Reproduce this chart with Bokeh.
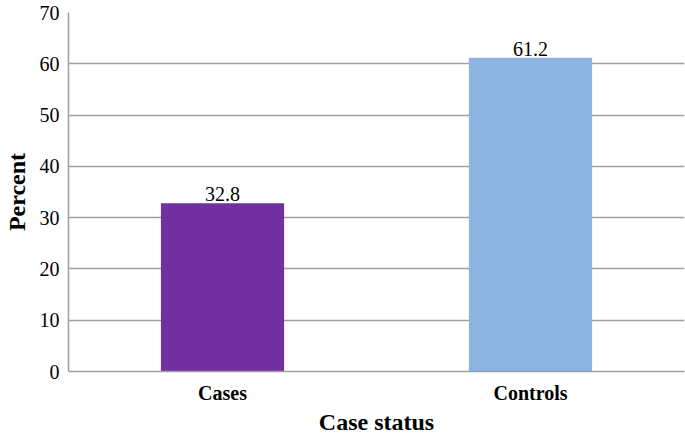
from bokeh.plotting import figure
from bokeh.models import ColumnDataSource, Range1d, FactorRange, FixedTicker
from bokeh.core.properties import value
from bokeh.embed import file_html
from bokeh.resources import INLINE

categories = ["Cases", "Controls"]
percent = [32.8, 61.2]
colors = ["#7030A0", "#8DB3E2"]
y_ticks = [0, 10, 20, 30, 40, 50, 60, 70]

labels = [f"{v:.1f}" for v in percent]
source = ColumnDataSource(dict(cat=categories, val=percent, color=colors, label=labels))

SERIF = "Liberation Serif"

p = figure(width=685, height=437, x_range=FactorRange(*categories, range_padding=0),
           y_range=Range1d(0, 70), output_backend="svg", toolbar_location=None,
           min_border_left=67, min_border_right=1, min_border_top=12, min_border_bottom=10)
p.outline_line_color = None

p.vbar(x="cat", top="val", width=0.4, fill_color="color", line_color=None, source=source)
p.text(x="cat", y="val", text="label", source=source, text_align="center",
       text_baseline="bottom", y_offset=-2, text_font=value(SERIF), text_font_size="20px",
       text_color="#000000")

p.xgrid.grid_line_color = None
p.ygrid.grid_line_color = "#A0A0A0"
p.ygrid.grid_line_width = 1.5
p.ygrid.ticker = FixedTicker(ticks=y_ticks)

p.yaxis.ticker = FixedTicker(ticks=y_ticks)
for ax in (p.xaxis[0], p.yaxis[0]):
    ax.axis_line_color = "#A0A0A0"
    ax.axis_line_width = 1.5
    ax.major_tick_line_color = None
    ax.minor_tick_line_color = None
    ax.major_tick_out = 0
    ax.major_tick_in = 0
    ax.major_label_text_font = SERIF
    ax.major_label_text_color = "#000000"
    ax.axis_label_text_font = SERIF
    ax.axis_label_text_font_style = "bold"
    ax.axis_label_text_color = "#000000"
    ax.axis_label_text_font_size = "24px"

p.yaxis.major_label_text_font_size = "20px"
p.yaxis.axis_label = "Percent"
p.yaxis.major_label_standoff = 9
p.yaxis.axis_label_standoff = 7

p.xaxis.major_label_text_font_size = "20px"
p.xaxis.major_label_text_font_style = "bold"
p.xaxis.major_label_standoff = 10
p.xaxis.axis_label = "Case status"
p.xaxis.axis_label_standoff = 2

open("out.html", "w").write(file_html(p, INLINE))
